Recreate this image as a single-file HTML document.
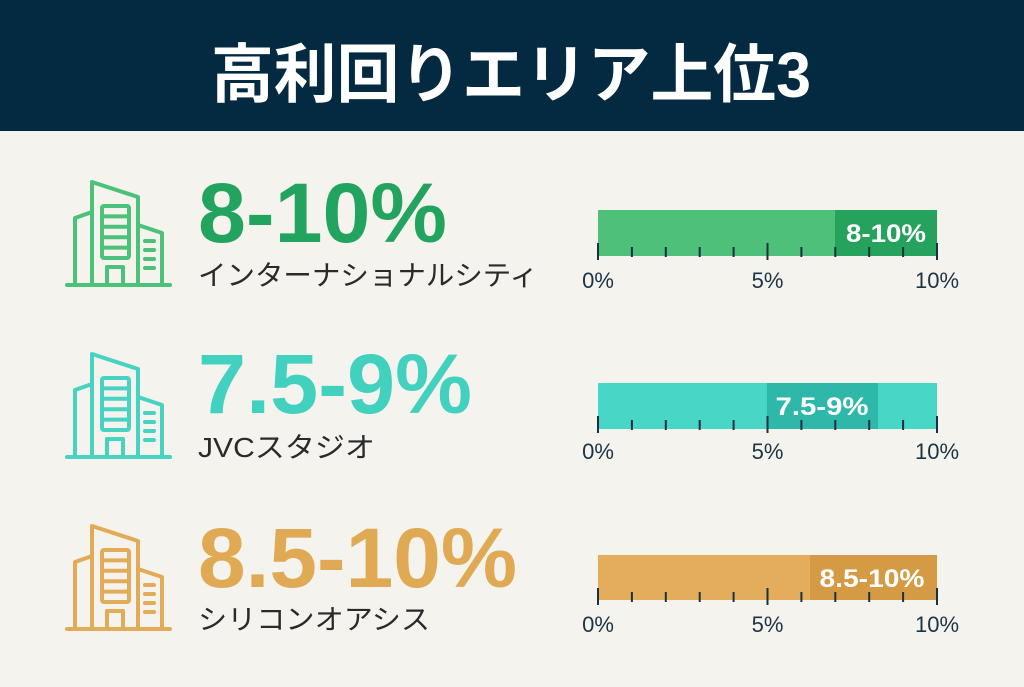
<!DOCTYPE html>
<html><head><meta charset="utf-8"><style>
html,body{margin:0;padding:0;background:#f4f3ee;}
svg{display:block;}
</style></head><body>
<svg width="1024" height="687" viewBox="0 0 1024 687" xmlns="http://www.w3.org/2000/svg">
<rect x="0" y="0" width="1024" height="687" fill="#f4f3ee"/>
<rect x="0" y="0" width="1024" height="131" fill="#032a40"/>
<text x="511" y="97" text-anchor="middle" font-family="'Liberation Sans','Noto Sans CJK JP',sans-serif" font-weight="700" font-size="64" fill="#ffffff" textLength="600" lengthAdjust="spacingAndGlyphs">高利回りエリア上位3</text>

<defs>
<g id="bld" fill="none" stroke-width="4" stroke-linejoin="round" stroke-linecap="round">
<path d="M67,285 H170"/>
<path d="M75,285 V218 L92,212"/>
<path d="M92,285 V182 L138,197 V285"/>
<path d="M138,225 L162,233 V285"/>
<rect x="102" y="206" width="27" height="52" rx="2"/>
<path d="M102,216.4 H129 M102,226.8 H129 M102,237.2 H129 M102,247.6 H129"/>
<path d="M107,285 V267 H123 V285"/>
<path d="M145,241 H154 M145,250 H154 M145,259 H154 M145,268 H154"/>
</g>
</defs>

<!-- Row 1 -->
<use href="#bld" stroke="#4cc17a"/>
<text x="198" y="242" font-family="'Liberation Sans',sans-serif" font-weight="700" font-size="84" fill="#22a45f" textLength="249" lengthAdjust="spacingAndGlyphs">8-10%</text>
<text x="198" y="285" font-family="'Liberation Sans','Noto Sans CJK JP',sans-serif" font-size="28" fill="#2a2a2a" textLength="340" lengthAdjust="spacingAndGlyphs">インターナショナルシティ</text>

<!-- Row 2 -->
<use href="#bld" stroke="#48d2c2" transform="translate(0,172)"/>
<text x="198" y="413" font-family="'Liberation Sans',sans-serif" font-weight="700" font-size="84" fill="#42d1bf" textLength="274" lengthAdjust="spacingAndGlyphs">7.5-9%</text>
<text x="198" y="457" font-family="'Liberation Sans','Noto Sans CJK JP',sans-serif" font-size="28" fill="#2a2a2a" textLength="177" lengthAdjust="spacingAndGlyphs">JVCスタジオ</text>

<!-- Row 3 -->
<use href="#bld" stroke="#e2ab57" transform="translate(0,344)"/>
<text x="198" y="587" font-family="'Liberation Sans',sans-serif" font-weight="700" font-size="84" fill="#e0a953" textLength="319" lengthAdjust="spacingAndGlyphs">8.5-10%</text>
<text x="198" y="629" font-family="'Liberation Sans','Noto Sans CJK JP',sans-serif" font-size="28" fill="#2a2a2a" textLength="232" lengthAdjust="spacingAndGlyphs">シリコンオアシス</text>

<!-- Bar 1 -->
<rect x="598" y="210" width="339" height="46" fill="#4fc07a"/>
<rect x="835" y="210" width="102" height="46" fill="#25a35c"/>
<text x="886" y="242" text-anchor="middle" font-family="'Liberation Sans',sans-serif" font-weight="700" font-size="25" fill="#ffffff" textLength="80" lengthAdjust="spacingAndGlyphs">8-10%</text>
<g stroke="#1b3040" stroke-width="2">
<path d="M598,243 V260 M767.5,243 V260 M937,243 V260"/>
<path d="M631.9,247 V257 M665.8,247 V257 M699.7,247 V257 M733.6,247 V257 M801.4,247 V257 M835.3,247 V257 M869.2,247 V257 M903.1,247 V257"/>
</g>
<g font-family="'Liberation Sans',sans-serif" font-size="22" fill="#1d3445" text-anchor="middle">
<text x="598" y="288">0%</text><text x="767.5" y="288">5%</text><text x="937" y="288">10%</text>
</g>

<!-- Bar 2 -->
<rect x="598" y="383" width="339" height="46" fill="#48d6c6"/>
<rect x="767" y="383" width="111" height="46" fill="#2db8aa"/>
<text x="822" y="415" text-anchor="middle" font-family="'Liberation Sans',sans-serif" font-weight="700" font-size="25" fill="#ffffff" textLength="93" lengthAdjust="spacingAndGlyphs">7.5-9%</text>
<g stroke="#1b3040" stroke-width="2">
<path d="M598,416 V433 M767.5,416 V433 M937,416 V433"/>
<path d="M631.9,420 V430 M665.8,420 V430 M699.7,420 V430 M733.6,420 V430 M801.4,420 V430 M835.3,420 V430 M869.2,420 V430 M903.1,420 V430"/>
</g>
<g font-family="'Liberation Sans',sans-serif" font-size="22" fill="#1d3445" text-anchor="middle">
<text x="598" y="459">0%</text><text x="767.5" y="459">5%</text><text x="937" y="459">10%</text>
</g>

<!-- Bar 3 -->
<rect x="598" y="555" width="339" height="45" fill="#e3ad5c"/>
<rect x="810" y="555" width="127" height="45" fill="#d49b44"/>
<text x="872" y="587" text-anchor="middle" font-family="'Liberation Sans',sans-serif" font-weight="700" font-size="25" fill="#ffffff" textLength="105" lengthAdjust="spacingAndGlyphs">8.5-10%</text>
<g stroke="#1b3040" stroke-width="2">
<path d="M598,588 V605 M767.5,588 V605 M937,588 V605"/>
<path d="M631.9,592 V602 M665.8,592 V602 M699.7,592 V602 M733.6,592 V602 M801.4,592 V602 M835.3,592 V602 M869.2,592 V602 M903.1,592 V602"/>
</g>
<g font-family="'Liberation Sans',sans-serif" font-size="22" fill="#1d3445" text-anchor="middle">
<text x="598" y="632">0%</text><text x="767.5" y="632">5%</text><text x="937" y="632">10%</text>
</g>
</svg>
</body></html>
